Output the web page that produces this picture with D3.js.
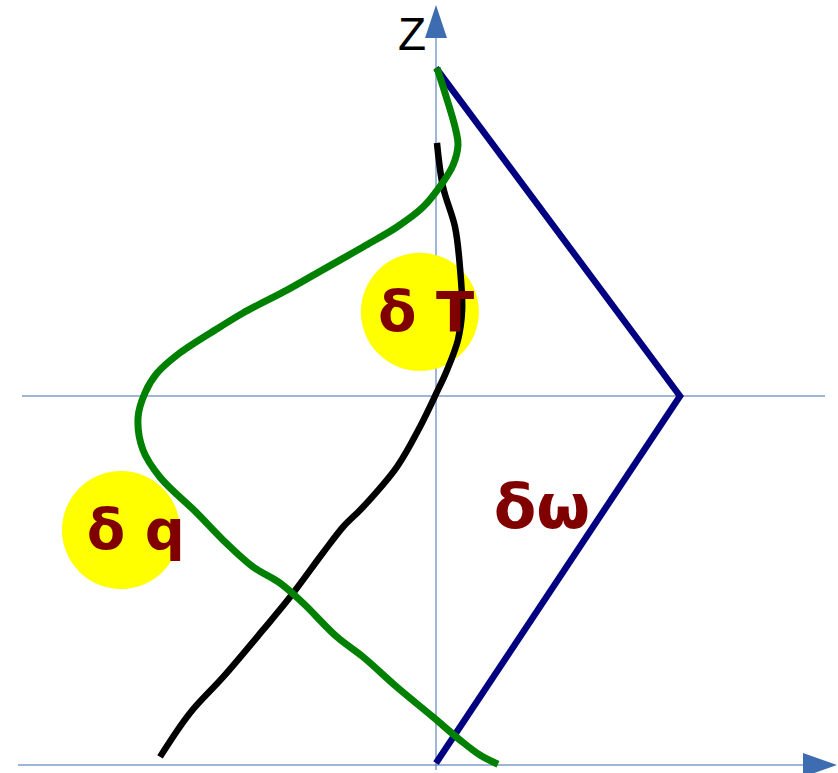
<!DOCTYPE html>
<html>
<head>
<meta charset="utf-8">
<script src="https://cdn.jsdelivr.net/npm/d3@7"></script>
<style>
  body { margin: 0; background: #fff; }
  svg { display: block; }
</style>
</head>
<body>
<div id="chart"></div>
<script>
// profiles in axis units: x = perturbation, z = height (mid line at z = 1)
const omegaProfile = [[0, 1.889], [1, 1], [0, 0.005]];

const qProfile = [
  [0.004, 1.889], [0.037, 1.821], [0.078, 1.729], [0.090, 1.680], [0.070, 1.626],
  [0.029, 1.580], [-0.053, 1.512], [-0.160, 1.458], [-0.299, 1.404], [-0.488, 1.333],
  [-0.611, 1.287], [-0.791, 1.225], [-0.885, 1.187], [-1.049, 1.117], [-1.143, 1.062],
  [-1.193, 1.008], [-1.221, 0.943], [-1.201, 0.854], [-1.131, 0.780], [-0.980, 0.683],
  [-0.873, 0.610], [-0.750, 0.537], [-0.639, 0.493], [-0.545, 0.439], [-0.406, 0.347],
  [-0.299, 0.293], [-0.160, 0.211], [-0.012, 0.130], [0.098, 0.068], [0.180, 0.027],
  [0.254, 0.002]
];

const tProfile = [
  [0.004, 1.686], [0.029, 1.566], [0.078, 1.458], [0.098, 1.350], [0.107, 1.233],
  [0.090, 1.152], [0.045, 1.070], [0.004, 1.011], [-0.066, 0.916], [-0.160, 0.808],
  [-0.299, 0.699], [-0.381, 0.645], [-0.463, 0.575], [-0.598, 0.455], [-0.709, 0.366],
  [-0.873, 0.238], [-1.008, 0.141], [-1.131, 0.022]
];

// labels: text and baseline position (axis units)
const labelNames = ["δ T", "δ q", "δω"];
const labelPos = [[-0.041, 1.176], [-1.23, 0.585], [0.434, 0.643]];
// yellow highlight spots behind the T and q labels
const spotPos = [[-0.066, 1.228], [-1.291, 0.637]];

const width = 838, height = 773;

const svg = d3.select("#chart")
  .append("svg")
  .attr("width", width)
  .attr("height", height);

// x: 0 at the vertical axis, 1 at the tip of the omega profile
const x = d3.scaleLinear().domain([0, 1]).range([436, 680]);
// z: 0 at the bottom axis, 1 at the middle line
const z = d3.scaleLinear().domain([0, 1]).range([765, 396]);

const axisColor = "#3d6db0";

// guide lines
svg.append("line")
  .attr("x1", 18).attr("x2", 805)
  .attr("y1", z(0)).attr("y2", z(0))
  .attr("stroke", axisColor).attr("stroke-width", 1);
svg.append("line")
  .attr("x1", 22).attr("x2", 825)
  .attr("y1", z(1)).attr("y2", z(1))
  .attr("stroke", axisColor).attr("stroke-width", 1);
svg.append("line")
  .attr("x1", x(0)).attr("x2", x(0))
  .attr("y1", 770).attr("y2", 36)
  .attr("stroke", axisColor).attr("stroke-width", 1);

// arrow heads
svg.append("path")
  .attr("d", `M${x(0) - 11},38 L${x(0)},5 L${x(0) + 11},38 Z`)
  .attr("fill", axisColor);
svg.append("path")
  .attr("d", `M803,${z(0) - 12} L837,${z(0)} L803,${z(0) + 12} Z`)
  .attr("fill", axisColor);

svg.append("text")
  .attr("x", 398).attr("y", 50)
  .attr("font-family", "Liberation Sans, Arial, sans-serif")
  .attr("font-size", 46)
  .attr("fill", "#000")
  .text("Z");

spotPos.forEach(p => {
  svg.append("circle")
    .attr("cx", x(p[0])).attr("cy", z(p[1]))
    .attr("r", 59)
    .attr("fill", "#ffff00");
});

const line = d3.line()
  .x(d => x(d[0]))
  .y(d => z(d[1]));

svg.append("path")
  .datum(omegaProfile)
  .attr("fill", "none")
  .attr("stroke", "#000080")
  .attr("stroke-width", 6.5)
  .attr("d", line.curve(d3.curveLinear));

svg.append("path")
  .datum(tProfile)
  .attr("fill", "none")
  .attr("stroke", "#000")
  .attr("stroke-width", 6.5)
  .attr("d", line.curve(d3.curveCatmullRom));

svg.append("path")
  .datum(qProfile)
  .attr("fill", "none")
  .attr("stroke", "#008000")
  .attr("stroke-width", 7)
  .attr("d", line.curve(d3.curveCatmullRom));

labelPos.forEach((p, i) => {
  svg.append("text")
    .attr("x", x(p[0]))
    .attr("y", z(p[1]))
    .attr("text-anchor", "middle")
    .attr("font-family", "DejaVu Sans, sans-serif")
    .attr("font-weight", "bold")
    .attr("font-size", i === 2 ? 62 : 56)
    .attr("fill", "#800000")
    .text(labelNames[i]);
});
</script>
</body>
</html>
